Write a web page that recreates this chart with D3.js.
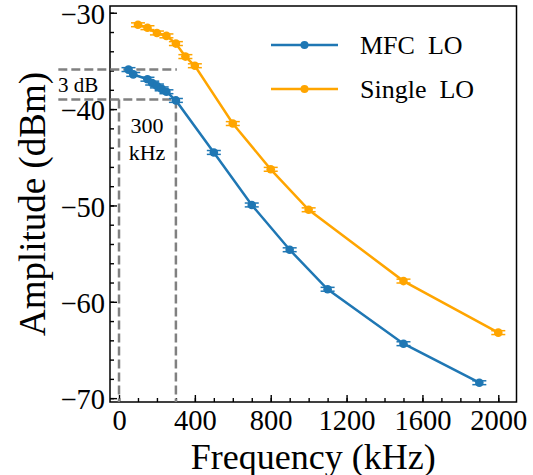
<!DOCTYPE html>
<html>
<head>
<meta charset="utf-8">
<script src="https://cdn.jsdelivr.net/npm/d3@7"></script>
<style>
  body { margin: 0; background: #fff; }
  svg { font-family: "Liberation Serif", "Times New Roman", serif; }
</style>
</head>
<body>
<svg id="chart" width="533" height="475"></svg>
<script>
// MFC LO
const mfc_freq = [50, 75, 150, 175, 200, 225, 250, 300, 500, 700, 900, 1100, 1500, 1900];
const mfc_amp = [-35.9, -36.4, -36.9, -37.3, -37.6, -37.9, -38.2, -39.1, -44.5, -49.95, -54.6, -58.7, -64.35, -68.4];
const mfc_err = [0.2, 0.2, 0.2, 0.2, 0.2, 0.2, 0.2, 0.2, 0.2, 0.2, 0.2, 0.2, 0.2, 0.2];
// Single LO
const single_freq = [100, 150, 200, 250, 300, 350, 400, 600, 800, 1000, 1500, 2000];
const single_amp = [-31.25, -31.55, -32.1, -32.4, -33.2, -34.55, -35.5, -41.5, -46.25, -50.45, -57.85, -63.2];
const single_err = [0.2, 0.2, 0.2, 0.2, 0.2, 0.2, 0.2, 0.2, 0.2, 0.2, 0.2, 0.2];

const series_names = ["MFC  LO", "Single  LO"];
const series_colors = ["#1f77b4", "#ffa500"];

const x_major = [0, 400, 800, 1200, 1600, 2000];
const y_major = [-70, -60, -50, -40, -30];

// 3 dB / 300 kHz markers
const db_top = -35.9;
const db_bottom = -39.0;
const cut_freq = 300;

const svg = d3.select("#chart");
const p_left = 110, p_right = 516.5, p_top = 6, p_bottom = 402;

const x = d3.scaleLinear().domain([-47.5, 2096]).range([p_left, p_right]);
const y = d3.scaleLinear().domain([-70.4, -29.3]).range([p_bottom, p_top]);

// axes (ticks inward, left+bottom only)
svg.append("g").attr("transform", `translate(0,${p_bottom})`)
    .call(d3.axisBottom(x).tickValues(x_major).tickSize(-7).tickPadding(8).tickFormat(d3.format("d")));
svg.append("g").attr("transform", `translate(0,${p_bottom})`)
    .call(d3.axisBottom(x).tickValues(d3.range(0, 2100, 100)).tickSize(-4).tickFormat(""));
const yAxis = svg.append("g").attr("transform", `translate(${p_left},0)`)
    .call(d3.axisLeft(y).tickValues(y_major).tickSize(-7).tickPadding(5)
        .tickFormat(d => d < 0 ? "\u2212" + Math.abs(d) : d));
svg.append("g").attr("transform", `translate(${p_left},0)`)
    .call(d3.axisLeft(y).tickValues(d3.range(-70, -29, 2)).tickSize(-4).tickFormat(""));

svg.selectAll(".domain").remove();
svg.selectAll(".tick line").attr("stroke", "#000").attr("stroke-width", 1.4);
svg.selectAll(".tick text").attr("fill", "#000").attr("font-size", 28.5)
    .style("font-family", "'Liberation Serif', 'Times New Roman', serif");
yAxis.selectAll(".tick text").attr("dy", "0.38em");

// frame
svg.append("rect")
    .attr("x", p_left).attr("y", p_top)
    .attr("width", p_right - p_left).attr("height", p_bottom - p_top)
    .attr("fill", "none").attr("stroke", "#000").attr("stroke-width", 1.5);

// dashed guides
const dashStyle = g => g.attr("stroke", "#808080").attr("stroke-width", 2.5).attr("stroke-dasharray", "9,4");
svg.append("line").attr("x1", x(-320)).attr("x2", x(cut_freq + 5)).attr("y1", y(db_top)).attr("y2", y(db_top)).call(dashStyle);
svg.append("line").attr("x1", x(-320)).attr("x2", x(cut_freq + 10)).attr("y1", y(db_bottom)).attr("y2", y(db_bottom)).call(dashStyle);
svg.append("line").attr("x1", x(0)).attr("x2", x(0)).attr("y1", y(db_bottom)).attr("y2", p_bottom).call(dashStyle);
svg.append("line").attr("x1", x(cut_freq)).attr("x2", x(cut_freq)).attr("y1", y(db_bottom)).attr("y2", p_bottom).call(dashStyle);

svg.append("text").attr("x", 58).attr("y", 92).attr("font-size", 21).text("3 dB");
svg.append("text").attr("x", 147).attr("y", 133).attr("font-size", 22).attr("text-anchor", "middle").text("300");
svg.append("text").attr("x", 147).attr("y", 160).attr("font-size", 22).attr("text-anchor", "middle").text("kHz");

// series
const all_series = [
    {freq: mfc_freq, amp: mfc_amp, err: mfc_err},
    {freq: single_freq, amp: single_amp, err: single_err}
];
const line = d3.line().x(d => x(d[0])).y(d => y(d[1]));

all_series.forEach(function (s, i) {
    const pts = s.freq.map((f, j) => [f, s.amp[j], s.err[j]]);
    const g = svg.append("g");
    g.append("path").datum(pts).attr("d", line)
        .attr("fill", "none").attr("stroke", series_colors[i]).attr("stroke-width", 2.5);
    // error bars
    g.selectAll(".eb").data(pts).enter().append("line")
        .attr("x1", d => x(d[0])).attr("x2", d => x(d[0]))
        .attr("y1", d => y(d[1] - d[2])).attr("y2", d => y(d[1] + d[2]))
        .attr("stroke", series_colors[i]).attr("stroke-width", 1.5);
    [-1, 1].forEach(function (sg) {
        g.selectAll(".cap" + sg).data(pts).enter().append("line")
            .attr("x1", d => x(d[0]) - 7).attr("x2", d => x(d[0]) + 7)
            .attr("y1", d => y(d[1] + sg * d[2])).attr("y2", d => y(d[1] + sg * d[2]))
            .attr("stroke", series_colors[i]).attr("stroke-width", 1.5);
    });
    g.selectAll("circle").data(pts).enter().append("circle")
        .attr("cx", d => x(d[0])).attr("cy", d => y(d[1])).attr("r", 4.3)
        .attr("fill", series_colors[i]);
});

// legend
const legend = svg.append("g");
series_names.forEach(function (name, i) {
    const ly = 45 + i * 44;
    legend.append("line").attr("x1", 271).attr("x2", 338).attr("y1", ly).attr("y2", ly)
        .attr("stroke", series_colors[i]).attr("stroke-width", 2.5);
    legend.append("circle").attr("cx", 304.5).attr("cy", ly).attr("r", 4).attr("fill", series_colors[i]);
    legend.append("text").attr("x", 360).attr("y", ly).attr("dy", "0.35em")
        .attr("font-size", 26).style("white-space", "pre").text(name);
});

// axis labels
svg.append("text").attr("x", (p_left + p_right) / 2).attr("y", 469)
    .attr("text-anchor", "middle").attr("font-size", 36).text("Frequency (kHz)");
svg.append("text").attr("transform", `translate(45,${(p_top + p_bottom) / 2}) rotate(-90)`)
    .attr("text-anchor", "middle").attr("font-size", 37).text("Amplitude (dBm)");
</script>
</body>
</html>
